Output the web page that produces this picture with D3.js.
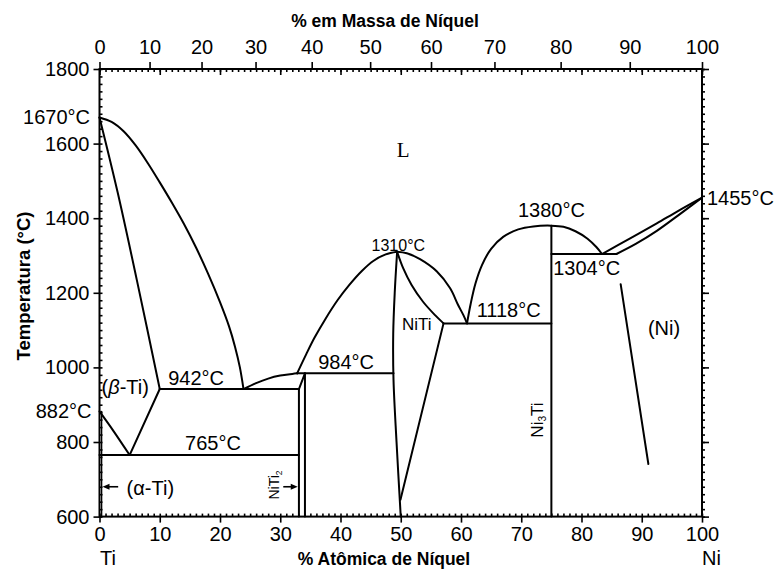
<!DOCTYPE html>
<html>
<head>
<meta charset="utf-8">
<script src="https://cdn.jsdelivr.net/npm/d3@7"></script>
<style>
  body { margin: 0; background: #fff; }
  text { font-family: "Liberation Sans", Arial, Helvetica, sans-serif; fill: #000; }
</style>
</head>
<body>
<svg id="chart" width="779" height="570"></svg>
<script>
// ---- Axis tick values ----
const atomTicks = [0, 10, 20, 30, 40, 50, 60, 70, 80, 90, 100];
const massTicks = [0, 10, 20, 30, 40, 50, 60, 70, 80, 90, 100];
const tempTicks = [600, 800, 1000, 1200, 1400, 1600, 1800];

// Atomic masses used to convert wt.% Ni into at.% Ni for the top axis
const MASS_NI = 58.693;
const MASS_TI = 47.867;

// ---- Invariant temperatures (°C) ----
const T_TI_MELT = 1670;
const T_NI_MELT = 1455;
const T_TI_BETA = 882;
const T_NITI_MAX = 1310;
const T_NI3TI_MAX = 1380;
const T_EUTECTIC_TI = 942;
const T_EUTECTOID = 765;
const T_PERITECTIC = 984;
const T_EUTECTIC_MID = 1118;
const T_EUTECTIC_NI = 1304;

// ---- Phase boundaries, [at.% Ni, °C] ----
const liquidusTi = [[0, T_TI_MELT], [2, 1658], [4, 1633], [6, 1595], [8, 1548], [10, 1496], [12, 1442],
  [14, 1385], [16, 1322], [18, 1252], [20, 1175], [21.5, 1110], [22.5, 1055], [23.3, 1000], [23.9, T_EUTECTIC_TI]];
const solidusBetaTi = [[0, T_TI_MELT], [3, 1470], [6.2, 1234], [10, T_EUTECTIC_TI]];
const transusBetaTi = [[0, T_TI_BETA], [2.3, 830], [5, T_EUTECTOID]];
const solvusBetaTi = [[5, T_EUTECTOID], [10, T_EUTECTIC_TI]];
const liquidusTi2Ni = [[23.9, T_EUTECTIC_TI], [26, 958], [28, 970], [30, 978], [32, 982.5], [32.8, T_PERITECTIC]];
const liquidusNiTiLeft = [[32.8, T_PERITECTIC], [34.3, 1035], [35.7, 1080], [37.5, 1130], [39.5, 1180],
  [41.5, 1222], [43.5, 1258], [45.5, 1286], [47.5, 1303], [49.4, T_NITI_MAX]];
const liquidusNiTiRight = [[49.4, T_NITI_MAX], [51, 1306], [53.2, 1290], [56, 1257], [58.2, 1212],
  [59.5, 1168], [60.4, 1140], [61, T_EUTECTIC_MID]];
const niTiLeftBoundary = [[49.4, T_NITI_MAX], [49.0, 1200], [48.75, 1090], [48.8, 966], [49.3, 800], [50, 600]];
const niTiRightUpper = [[49.4, T_NITI_MAX], [50.4, 1266], [51.8, 1221], [53.7, 1176], [55.7, 1140], [57.1, T_EUTECTIC_MID]];
const niTiRightLower = [[57.1, T_EUTECTIC_MID], [49.95, 645]];
const liquidusNi3Ti = [[61, T_EUTECTIC_MID], [61.6, 1170], [62.4, 1225], [63.5, 1275], [65, 1318], [67, 1350],
  [69.5, 1370], [72, 1378], [75, T_NI3TI_MAX], [77, 1377], [79, 1365], [81, 1345], [82.5, 1322], [83.4, T_EUTECTIC_NI]];
const liquidusNi = [[83.4, T_EUTECTIC_NI], [88, 1345], [92.5, 1386], [96, 1419], [100, T_NI_MELT]];
const solidusNi = [[85.8, T_EUTECTIC_NI], [89, 1331], [92.5, 1366], [96, 1407], [100, T_NI_MELT]];
const solvusNi = [[86.5, 1223], [91.1, 741]];
const alphaTiLimit = [[0.35, T_TI_BETA], [0.35, 600]];
const ti2NiLeft = [[33.1, T_EUTECTIC_TI], [33.1, 600]];
const ti2NiRight = [[34.1, T_PERITECTIC], [34.1, 600]];
const ti2NiPeritectic = [[33.1, T_EUTECTIC_TI], [34.1, T_PERITECTIC]];
const ni3TiLine = [[75, T_NI3TI_MAX], [75, 600]];

// Invariant (horizontal) reactions: [from at.%, to at.%, °C]
const isotherms = [
  [10, 33.1, T_EUTECTIC_TI],
  [0, 33.1, T_EUTECTOID],
  [32.8, 48.8, T_PERITECTIC],
  [57.1, 75, T_EUTECTIC_MID],
  [75, 85.8, T_EUTECTIC_NI]
];

// ---- Scales ----
const svg = d3.select("#chart");
const x = d3.scaleLinear().domain([0, 100]).range([99.5, 702]);
const y = d3.scaleLinear().domain([600, 1800]).range([516.6, 69]);

const massToAtom = w => {
  const ni = w / MASS_NI, ti = (100 - w) / MASS_TI;
  return 100 * ni / (ni + ti);
};
// piecewise-linear scale placing each wt.% tick at its at.% position
const xMass = d3.scaleLinear().domain(massTicks).range(massTicks.map(w => x(massToAtom(w))));

// ---- Axes ----
const styleAxis = (g, size) => {
  g.select(".domain").remove();
  g.selectAll("line").attr("stroke", "#000").attr("stroke-width", 1.6);
  g.selectAll("text").attr("font-size", size).attr("fill", "#000")
    .style("font-family", '"Liberation Sans", Arial, sans-serif');
};

// bottom: at.% Ni
svg.append("g").attr("transform", `translate(0,${y(600)})`)
  .call(d3.axisBottom(x).tickValues(atomTicks).tickSize(6).tickPadding(4).tickFormat(d3.format("d")))
  .call(g => styleAxis(g, 20));
svg.append("g").attr("transform", `translate(0,${y(600)})`)
  .call(d3.axisBottom(x).tickValues(d3.range(0, 101, 1)).tickSize(-3).tickFormat(""))
  .call(g => styleAxis(g, 0));

// top: wt.% Ni labels outside, at.% ticks inside
svg.append("g").attr("transform", `translate(0,${y(1800)})`)
  .call(d3.axisTop(xMass).tickValues(massTicks).tickSize(7).tickPadding(8).tickFormat(d3.format("d")))
  .call(g => styleAxis(g, 20));
svg.append("g").attr("transform", `translate(0,${y(1800)})`)
  .call(d3.axisTop(x).tickValues(atomTicks).tickSize(-6).tickFormat(""))
  .call(g => styleAxis(g, 0));
svg.append("g").attr("transform", `translate(0,${y(1800)})`)
  .call(d3.axisTop(x).tickValues(d3.range(0, 101, 1)).tickSize(-3).tickFormat(""))
  .call(g => styleAxis(g, 0));

// left: temperature
svg.append("g").attr("transform", `translate(${x(0)},0)`)
  .call(d3.axisLeft(y).tickValues(tempTicks).tickSize(6).tickPadding(4).tickFormat(d3.format("d")))
  .call(g => styleAxis(g, 20));
svg.append("g").attr("transform", `translate(${x(0)},0)`)
  .call(d3.axisLeft(y).tickValues(d3.range(600, 1801, 20)).tickSize(-3).tickFormat(""))
  .call(g => styleAxis(g, 0));

// right: temperature ticks only
svg.append("g").attr("transform", `translate(${x(100)},0)`)
  .call(d3.axisRight(y).tickValues(tempTicks).tickSize(7).tickFormat(""))
  .call(g => styleAxis(g, 0));
svg.append("g").attr("transform", `translate(${x(100)},0)`)
  .call(d3.axisRight(y).tickValues(d3.range(600, 1801, 20)).tickSize(3).tickFormat(""))
  .call(g => styleAxis(g, 0));

// frame
svg.append("rect")
  .attr("x", x(0)).attr("y", y(1800))
  .attr("width", x(100) - x(0)).attr("height", y(600) - y(1800))
  .attr("fill", "none").attr("stroke", "#000").attr("stroke-width", 2);

// ---- Phase boundaries ----
const plot = svg.append("g").attr("fill", "none").attr("stroke", "#000")
  .attr("stroke-width", 2).attr("stroke-linejoin", "round").attr("stroke-linecap", "round");
const smooth = d3.line().x(d => x(d[0])).y(d => y(d[1])).curve(d3.curveCatmullRom.alpha(0.5));
const straight = d3.line().x(d => x(d[0])).y(d => y(d[1]));

[liquidusTi, solidusBetaTi, transusBetaTi, liquidusTi2Ni, liquidusNiTiLeft, liquidusNiTiRight,
 niTiLeftBoundary, niTiRightUpper, liquidusNi3Ti, liquidusNi, solidusNi]
  .forEach(p => plot.append("path").attr("d", smooth(p)));

[solvusBetaTi, niTiRightLower, solvusNi, ti2NiLeft, ti2NiRight, ti2NiPeritectic, ni3TiLine]
  .forEach(p => plot.append("path").attr("d", straight(p)));
plot.append("path").attr("d", straight(alphaTiLimit)).attr("stroke-width", 1.4);

plot.selectAll("line.iso").data(isotherms).join("line").attr("class", "iso")
  .attr("x1", d => x(d[0])).attr("x2", d => x(d[1]))
  .attr("y1", d => y(d[2])).attr("y2", d => y(d[2]));

// ---- Arrows pointing at the narrow phase fields ----
const arrow = (fromPct, toPct, temp) => {
  const x0 = x(fromPct), x1 = x(toPct), yy = y(temp);
  const dir = Math.sign(x1 - x0);
  svg.append("line").attr("x1", x0).attr("x2", x1 - dir * 5).attr("y1", yy).attr("y2", yy)
    .attr("stroke", "#000").attr("stroke-width", 1.6);
  svg.append("path")
    .attr("d", `M${x1},${yy} L${x1 - dir * 7},${yy - 3} L${x1 - dir * 7},${yy + 3} Z`)
    .attr("fill", "#000");
};
arrow(3.1, 0.5, 680);
arrow(30.5, 32.9, 680);

// ---- Labels ----
const label = (txt, xp, yp, opts = {}) => {
  const t = svg.append("text")
    .attr("x", xp).attr("y", yp)
    .attr("dy", opts.dy ?? "0.35em")
    .attr("text-anchor", opts.anchor || "start")
    .attr("font-size", opts.size || 20)
    .attr("font-weight", opts.weight || "normal");
  if (opts.family) t.style("font-family", opts.family);
  if (opts.rotate) t.attr("transform", `rotate(${opts.rotate},${xp},${yp})`);
  if (opts.parts) {
    opts.parts.forEach(pt => {
      const s = t.append("tspan").text(pt.t);
      if (pt.sub) s.attr("font-size", (opts.size || 20) * 0.6).attr("dy", pt.dy);
      if (pt.reset) s.attr("dy", pt.dy);
      if (pt.italic) s.attr("font-style", "italic");
    });
  } else {
    t.text(txt);
  }
  return t;
};

// temperatures at the pure-metal ends
label("1670°C", 90, y(T_TI_MELT), { anchor: "end" });
label("882°C", 91.5, y(T_TI_BETA), { anchor: "end" });
label("1455°C", 707, y(T_NI_MELT), { anchor: "start" });

// field and invariant labels
label("L", x(50.4), y(1583), { anchor: "middle", family: '"Liberation Serif", "Times New Roman", serif', size: 21 });
label("1310°C", x(49.6), y(1328), { anchor: "middle", size: 16 });
label("1380°C", x(75), y(1422), { anchor: "middle" });
label("1304°C", x(75.3), y(1266), { anchor: "start" });
label("1118°C", x(62.6), y(1154), { anchor: "start" });
label("NiTi", x(50.2), y(1115), { anchor: "start", size: 17 });
label("(Ni)", x(93.7), y(1106), { anchor: "middle" });
label("984°C", x(36.3), y(1015), { anchor: "start" });
label("942°C", x(11.4), y(971), { anchor: "start" });
label("", x(0.35), y(948), { anchor: "start", parts: [{ t: "(" }, { t: "β", italic: true }, { t: "-Ti)" }] });
label("765°C", x(14.2), y(796), { anchor: "start" });
label("(α-Ti)", x(4.5), y(676), { anchor: "start" });

// compound labels, written vertically
label("", 274, 485, { anchor: "middle", size: 14, rotate: -90,
  parts: [{ t: "NiTi" }, { t: "2", sub: true, dy: "3" }] });
label("", 537.5, 420, { anchor: "middle", size: 17, rotate: -90,
  parts: [{ t: "Ni" }, { t: "3", sub: true, dy: "3" }, { t: "Ti", reset: true, dy: "-3" }] });

// axis titles and element ends
label("% em Massa de Níquel", 385, 27, { anchor: "middle", size: 17.5, weight: "bold", dy: "0" });
label("% Atômica de Níquel", 384, 565, { anchor: "middle", size: 17.5, weight: "bold", dy: "0" });
label("Temperatura (°C)", 23.5, 286, { anchor: "middle", size: 18.5, weight: "bold", rotate: -90 });
label("Ti", 100, 564.5, { anchor: "start", dy: "0" });
label("Ni", 702, 564.5, { anchor: "start", dy: "0" });
</script>
</body>
</html>
